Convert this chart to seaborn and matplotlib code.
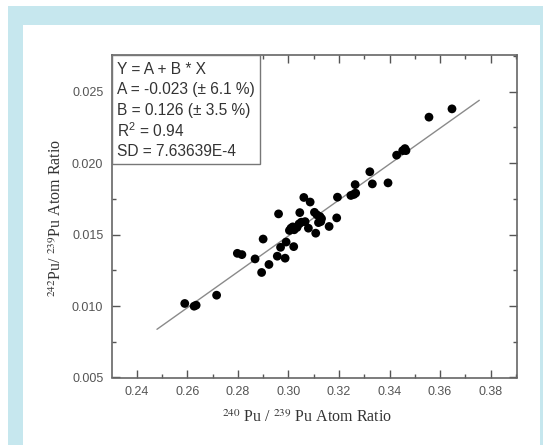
import matplotlib
matplotlib.use("Agg")
import matplotlib.pyplot as plt
from matplotlib.patches import Rectangle
from matplotlib.ticker import MultipleLocator
import numpy as np
import pandas as pd
import seaborn as sns

# ---- data ----
x_ratio = [0.2590, 0.2627, 0.2635, 0.2716, 0.2798, 0.2816, 0.2868, 0.2900, 0.2894,
           0.2923, 0.2956, 0.2961, 0.2969, 0.2987, 0.2991, 0.3004, 0.3010, 0.3017,
           0.3023, 0.3021, 0.3034, 0.3045, 0.3042, 0.3051, 0.3061, 0.3066, 0.3079,
           0.3086, 0.3103, 0.3108, 0.3113, 0.3119, 0.3125, 0.3128, 0.3131, 0.3161,
           0.3191, 0.3194, 0.3247, 0.3259, 0.3266, 0.3264, 0.3322, 0.3332, 0.3394,
           0.3428, 0.3452, 0.3461, 0.3465, 0.3556, 0.3647]
y_ratio = [0.01018, 0.00999, 0.01006, 0.01076, 0.01369, 0.01360, 0.01330, 0.01469, 0.01235,
           0.01291, 0.01349, 0.01645, 0.01411, 0.01335, 0.01448, 0.01529, 0.01545, 0.01554,
           0.01534, 0.01416, 0.01550, 0.01654, 0.01575, 0.01587, 0.01760, 0.01591, 0.01545,
           0.01728, 0.01656, 0.01510, 0.01638, 0.01584, 0.01626, 0.01591, 0.01612, 0.01557,
           0.01617, 0.01762, 0.01774, 0.01781, 0.01790, 0.01850, 0.01940, 0.01855, 0.01862,
           0.02056, 0.02088, 0.02102, 0.02088, 0.02322, 0.02380]
fit_A = -0.0228
fit_B = 0.1257
fit_x_range = [0.248, 0.3755]
x_ticks = [0.24, 0.26, 0.28, 0.30, 0.32, 0.34, 0.36, 0.38]
y_ticks = [0.005, 0.010, 0.015, 0.020, 0.025]
fit_text = ["Y = A + B * X",
            "A = -0.023 (\u00b1 6.1 %)",
            "B = 0.126 (\u00b1 3.5 %)",
            "R$^2$ = 0.94",
            "SD = 7.63639E-4"]

sns.set_style("ticks")
plt.rcParams['font.family'] = ['Liberation Sans', 'DejaVu Sans']
plt.rcParams['mathtext.fontset'] = 'custom'
plt.rcParams['mathtext.rm'] = 'Liberation Sans'

fig = plt.figure(figsize=(5.43, 4.45), dpi=100)
fig.patch.set_facecolor("white")
fig.patches.append(Rectangle((8/543, 0), 1 - 8/543, 1 - 6/445, transform=fig.transFigure,
                             facecolor="#c6e7ee", edgecolor="none", zorder=-10))
fig.patches.append(Rectangle((23/543, 0), (540 - 23)/543, 1 - 25/445, transform=fig.transFigure,
                             facecolor="white", edgecolor="none", zorder=-9))

ax = fig.add_axes([111.7/543, 1 - 377.5/445, (516.7 - 111.7)/543, (377.5 - 55)/445])
ax.set_facecolor("white")

df = pd.DataFrame({"x": x_ratio, "y": y_ratio})
fx = np.array(fit_x_range)
fit_df = pd.DataFrame({"x": fx, "y": fit_A + fit_B * fx})

sns.lineplot(data=fit_df, x="x", y="y", ax=ax, color="#8a8a8a", linewidth=1.0, zorder=2)
sns.scatterplot(data=df, x="x", y="y", ax=ax, color="black", s=40, edgecolor="none", zorder=3)

ax.set_xlim(0.2301, 0.3903)
ax.set_ylim(0.005, 0.02757)
ax.set_xticks(x_ticks)
ax.set_yticks(y_ticks)
ax.set_xticklabels([f"{t:.2f}" for t in x_ticks])
ax.set_yticklabels([f"{t:.3f}" for t in y_ticks])
ax.xaxis.set_minor_locator(MultipleLocator(0.01))
ax.yaxis.set_minor_locator(MultipleLocator(0.0025))
ax.tick_params(which="both", direction="in", top=True, right=True, color="#555555",
               labelcolor="#555555", labelsize=9, width=1.0)
ax.tick_params(which="major", length=6, pad=6)
ax.tick_params(which="minor", length=3)
for sp in ax.spines.values():
    sp.set_color("#666666")
    sp.set_linewidth(1.2)

serif = ['Liberation Serif', 'DejaVu Serif']
ax.set_xlabel("")
ax.set_ylabel("")
fig.text(307/543, 1 - 418/445, "$^{240}$ Pu / $^{239}$ Pu Atom Ratio", ha="center", va="center",
         fontsize=11.5, family=serif, color="#333333", math_fontfamily="stix")
fig.text(57/543, 1 - 218/445, "$^{242}$Pu/ $^{239}$Pu Atom Ratio", ha="center", va="center",
         rotation=90, fontsize=11.5, family=serif, color="#333333", math_fontfamily="stix")

# fit result box
box_w = (259.5 - 111.7) / 405.0
box_h = (164 - 55) / 322.5
ax.add_patch(Rectangle((0, 1 - box_h), box_w, box_h, transform=ax.transAxes,
                       facecolor="white", edgecolor="#777777", linewidth=1.0, zorder=4))
for i, line in enumerate(fit_text):
    ax.text(0.012, 1 - (14 + i * 20.7) / 322.5, line, transform=ax.transAxes, ha="left",
            va="center", fontsize=11.2, color="#333333", zorder=5)

fig.savefig("out.png", dpi=100)
